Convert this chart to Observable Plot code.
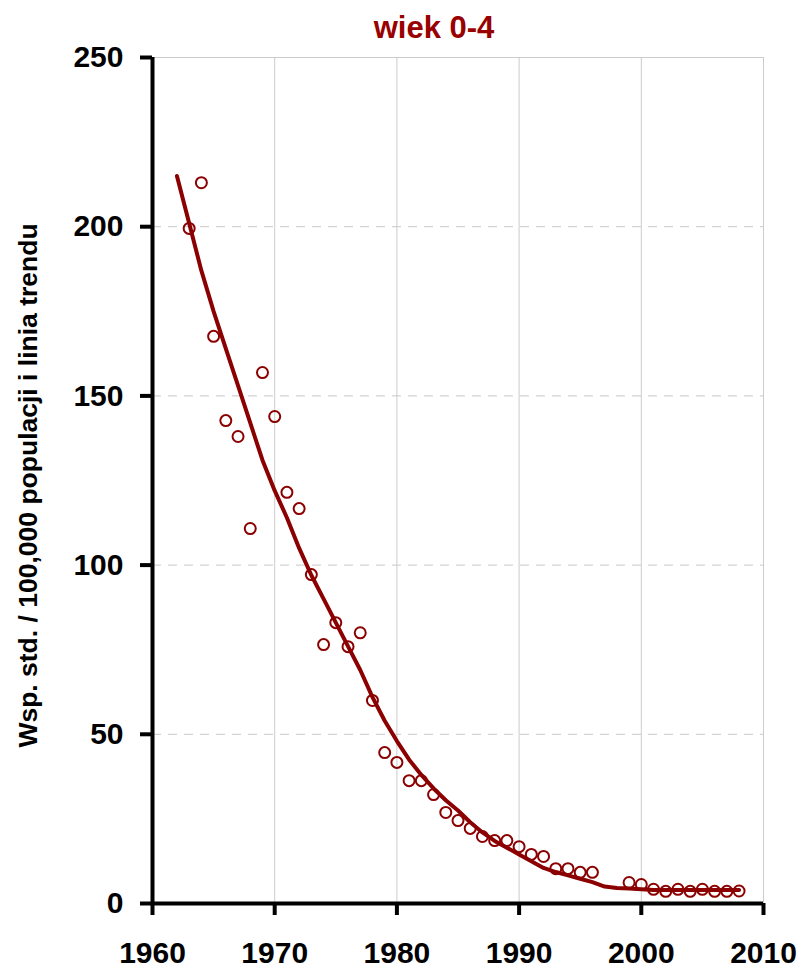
<!DOCTYPE html>
<html>
<head>
<meta charset="utf-8">
<script src="https://cdn.jsdelivr.net/npm/d3@7"></script>
<script src="https://cdn.jsdelivr.net/npm/@observablehq/plot@0.6"></script>
<style>
  html, body { margin: 0; padding: 0; background: #fff; }
  #wrap { position: relative; width: 802px; height: 968px; font-family: "Liberation Sans", Arial, sans-serif; }
  #title { position: absolute; top: 10px; left: 334px; width: 200px; text-align: center; font-size: 31px; font-weight: bold; color: #990000; line-height: 36px; }
</style>
</head>
<body>
<div id="wrap">
  <div id="title">wiek 0-4</div>
  <div id="chart"></div>
</div>
<script>
const pointYears = [1963,1964,1965,1966,1967,1968,1969,1970,1971,1972,1973,1974,1975,1976,1977,1978,1979,1980,1981,1982,1983,1984,1985,1986,1987,1988,1989,1990,1991,1992,1993,1994,1995,1996,1999,2000,2001,2002,2003,2004,2005,2006,2007,2008];
const pointValues = [199.5,213,167.6,142.7,138,110.8,156.9,143.9,121.5,116.7,97.2,76.5,83,75.9,80,60,44.6,41.7,36.3,36.3,32.2,26.9,24.5,22.2,19.8,18.6,18.6,16.8,14.5,13.9,10.3,10.3,9.2,9.2,6.2,5.6,4.2,3.6,4.2,3.6,4.2,3.6,3.6,3.7];

const trendYears = [1962,1963,1964,1965,1966,1967,1968,1969,1970,1971,1972,1973,1974,1975,1976,1977,1978,1979,1980,1981,1982,1983,1984,1985,1986,1987,1988,1989,1990,1991,1992,1993,1994,1995,1996,1997,1998,1999,2000,2001,2002,2003,2004,2005,2006,2007,2008];
const trendValues = [215,201,187,175,164,153,142,131,122,114,105,97,90,83,76,69,61,54,48,42.5,38,34,30.5,27.5,24,21,18.5,16.5,14.5,12.5,10.5,9.3,8.3,7.3,6.3,5,4.6,4.4,4.2,4,4,4,4,4,4,4,4];

const xTicks = [1960,1970,1980,1990,2000,2010];
const yTicks = [0,50,100,150,200,250];
const yLabel = "Wsp. std. / 100,000 populacji i linia trendu";

const points = pointYears.map((y, i) => ({year: y, value: pointValues[i]}));
const trend = trendYears.map((y, i) => ({year: y, value: trendValues[i]}));

const red = "#8b0000";

const chart = Plot.plot({
  width: 802,
  height: 968,
  marginLeft: 152,
  marginRight: 39,
  marginTop: 57,
  marginBottom: 65,
  style: {fontFamily: "'Liberation Sans', Arial, sans-serif", background: "#fff"},
  x: {domain: [1960, 2010], label: null},
  y: {domain: [0, 250], label: null},
  marks: [
    Plot.gridX(xTicks.slice(1), {stroke: "#cccccc", strokeOpacity: 1, strokeWidth: 1}),
    Plot.gridY(yTicks.slice(1, 5), {stroke: "#c8c8c8", strokeOpacity: 1, strokeWidth: 1, strokeDasharray: "9,7"}),
    Plot.ruleY([250], {stroke: "#cccccc", strokeWidth: 1}),
    Plot.line(trend, {x: "year", y: "value", stroke: red, strokeWidth: 4, curve: "linear"}),
    Plot.dot(points, {x: "year", y: "value", r: 5.5, stroke: red, strokeWidth: 2, fill: "none"}),
    Plot.ruleX([1960], {stroke: "#000", strokeWidth: 4}),
    Plot.ruleY([0], {stroke: "#000", strokeWidth: 4}),
    Plot.axisY(yTicks, {anchor: "left", tickSize: 12, tickPadding: 17, strokeWidth: 4, stroke: "#000", fontSize: 30, fontWeight: "bold", fill: "#000", label: null}),
    Plot.axisX(xTicks, {anchor: "bottom", tickSize: 12, tickPadding: 26, strokeWidth: 4, stroke: "#000", fontSize: 30, fontWeight: "bold", fill: "#000", tickFormat: d => String(d), label: null}),
    Plot.text([yLabel], {frameAnchor: "left", textAnchor: "middle", rotate: -90, dx: -124, dy: 5, fontSize: 26.5, fontWeight: "bold", fill: "#000"})
  ]
});
document.getElementById("chart").appendChild(chart);
</script>
</body>
</html>
